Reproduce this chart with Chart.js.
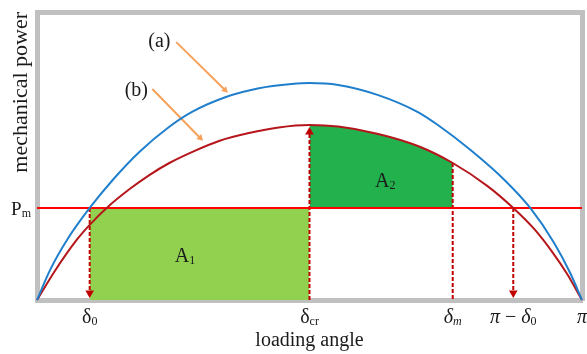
<!DOCTYPE html>
<html>
<head>
<meta charset="utf-8">
<script src="https://cdn.jsdelivr.net/npm/chart.js@4.4.0/dist/chart.umd.min.js"></script>
<style>
  html, body { margin: 0; padding: 0; background: #fff; }
  #wrap { width: 587px; height: 354px; position: relative; }
</style>
</head>
<body>
<div id="wrap"><canvas id="chart"></canvas></div>
<script>
// Power-angle curves, equal area criterion
// x: loading angle in degrees (180 = π), y: power relative to peak of curve (b)

// curve (a) – pre-fault
const curveAX = [0, 4.3, 9.9, 17.4, 25.0, 33.8, 43.7, 51.2, 62.4, 73.3, 84.1, 90, 99.5, 112.7, 125.8, 132.4, 143.2, 154.4, 162.9, 170.8, 176.1, 180];
const curveAY = [0, 0.171, 0.343, 0.526, 0.686, 0.846, 0.990, 1.075, 1.160, 1.210, 1.234, 1.240, 1.229, 1.171, 1.074, 1.000, 0.857, 0.686, 0.526, 0.326, 0.154, 0];

// curve (b) – post-fault
const curveBX = [0, 5.9, 13.1, 17.4, 23.0, 30.6, 37.1, 43.7, 51.9, 60.1, 70.0, 79.8, 90, 99.5, 112.7, 125.8, 137.3, 148.8, 157.3, 164.2, 170.2, 175.1, 180];
const curveBY = [0, 0.166, 0.343, 0.429, 0.526, 0.634, 0.714, 0.783, 0.851, 0.909, 0.954, 0.986, 1.0, 0.991, 0.949, 0.880, 0.783, 0.651, 0.526, 0.406, 0.274, 0.149, 0];

const PM = 0.526;
const D0 = 17.4, DCR = 90, DM = 137.3, PI_D0 = 157.3, PI = 180;
const YMAX = 1.646;
const ARROW_INSET = 0.04;

const xTickValues = [D0, DCR, DM, PI_D0, PI];
const xTickLabels = [
    [{ t: 'δ' }, { t: '0', sub: true }],
    [{ t: 'δ' }, { t: 'cr', sub: true }],
    [{ t: 'δ', it: true }, { t: 'm', sub: true, it: true }],
    [{ t: 'π', it: true }, { t: ' − ' }, { t: 'δ', it: true }, { t: '0', sub: true }],
    [{ t: 'π', it: true }],
];

// orange pointer arrows for the curve names
const arrowA = [[46.0, 1.474], [62.1, 1.200]];
const arrowB = [[38.1, 1.206], [53.9, 0.926]];

// text notes: [label parts, x, y]
const notes = [
    [[{ t: '(a)' }], 40.4, 1.486],
    [[{ t: '(b)' }], 32.8, 1.206],
    [[{ t: 'A' }, { t: '1', sub: true }], 48.9, 0.257],
    [[{ t: 'A' }, { t: '2', sub: true }], 115.0, 0.686],
];

const pts = (xs, ys) => xs.map((x, i) => ({ x, y: ys[i] }));
const seg = (a) => a.map(p => ({ x: p[0], y: p[1] }));

const DARK_RED = '#c00000';
const FRAME = '#c0c0c0';
const SERIF = '"Liberation Serif", "Times New Roman", serif';

// area A2: curve (b) between δcr and δm
const a2X = curveBX.filter(x => x >= DCR && x <= DM);
const a2Y = curveBY.filter((y, i) => curveBX[i] >= DCR && curveBX[i] <= DM);

function drawRich(ctx, parts, cx, base, size, align) {
    const subSize = Math.round(size * 0.62);
    const fontOf = p => `${p.it ? 'italic ' : ''}${p.sub ? subSize : size}px ${SERIF}`;
    let w = 0;
    parts.forEach(p => { ctx.font = fontOf(p); w += ctx.measureText(p.t).width; });
    let x = align === 'right' ? cx - w : cx - w / 2;
    ctx.textAlign = 'left';
    ctx.textBaseline = 'alphabetic';
    parts.forEach(p => {
        ctx.font = fontOf(p);
        ctx.fillText(p.t, x, base + (p.sub ? size * 0.12 : 0));
        x += ctx.measureText(p.t).width;
    });
}

const labelPlugin = {
    id: 'labels',
    afterDraw(chart) {
        const { ctx, chartArea, scales: { x, y } } = chart;
        ctx.save();
        ctx.fillStyle = '#1a1a1a';
        xTickLabels.forEach((parts, i) => {
            drawRich(ctx, parts, x.getPixelForValue(xTickValues[i]), chartArea.bottom + 23, 20);
        });
        drawRich(ctx, [{ t: 'P' }, { t: 'm', sub: true }], chartArea.left - 6, y.getPixelForValue(PM) + 7, 19, 'right');
        notes.forEach(([parts, vx, vy]) => {
            drawRich(ctx, parts, x.getPixelForValue(vx), y.getPixelForValue(vy) + 7, 20);
        });
        ctx.restore();
    }
};

const dashed = (data, withArrow, rot) => ({
    data,
    borderColor: DARK_RED,
    borderWidth: 2,
    borderDash: [4, 2],
    pointStyle: 'triangle',
    pointRadius: withArrow ? [0, 5] : 0,
    pointRotation: [0, rot || 0],
    pointBackgroundColor: DARK_RED,
    pointBorderWidth: 0,
    fill: false,
    clip: false,
});

const pointer = (a) => ({
    data: seg(a),
    borderColor: '#f5a15a',
    borderWidth: 2,
    pointStyle: 'triangle',
    pointRadius: [0, 4],
    pointRotation: [0, 135],
    pointBackgroundColor: '#f5a15a',
    pointBorderWidth: 0,
    fill: false,
    clip: false,
});

new Chart(document.getElementById('chart').getContext('2d'), {
    type: 'line',
    data: {
        datasets: [
            {
                label: '(a)',
                data: pts(curveAX, curveAY),
                borderColor: '#1f7fcc',
                borderWidth: 2,
                pointRadius: 0,
                cubicInterpolationMode: 'monotone',
                fill: false,
                clip: 3,
            },
            {
                label: '(b)',
                data: pts(curveBX, curveBY),
                borderColor: '#b5161b',
                borderWidth: 2,
                pointRadius: 0,
                cubicInterpolationMode: 'monotone',
                fill: false,
                clip: 3,
            },
            {
                label: 'Pm',
                data: [{ x: 0, y: PM }, { x: PI, y: PM }],
                borderColor: '#ff0000',
                borderWidth: 2,
                pointRadius: 0,
                fill: false,
            },
            dashed([{ x: D0, y: PM }, { x: D0, y: ARROW_INSET }], true, 180),
            dashed([{ x: DCR, y: 0 }, { x: DCR, y: 1.0 - ARROW_INSET }], true, 0),
            dashed([{ x: DM, y: curveBY[curveBX.indexOf(DM)] }, { x: DM, y: 0 }], false),
            dashed([{ x: PI_D0, y: PM }, { x: PI_D0, y: ARROW_INSET }], true, 180),
            pointer(arrowA),
            pointer(arrowB),
            {
                label: 'A1',
                data: [{ x: D0, y: PM }, { x: DCR, y: PM }],
                borderWidth: 0,
                pointRadius: 0,
                backgroundColor: '#92d050',
                fill: 'origin',
            },
            {
                label: 'A2',
                data: pts(a2X, a2Y),
                borderWidth: 0,
                pointRadius: 0,
                cubicInterpolationMode: 'monotone',
                backgroundColor: '#22b14c',
                fill: { value: PM },
            },
        ],
    },
    options: {
        responsive: true,
        maintainAspectRatio: false,
        animation: false,
        layout: { padding: { top: 12, right: 2, left: 0, bottom: 0 } },
        plugins: {
            legend: { display: false },
            tooltip: { enabled: false },
            filler: { drawTime: 'beforeDatasetsDraw' },
        },
        scales: {
            x: {
                type: 'linear', min: 0, max: PI, position: 'bottom',
                grid: { display: false },
                border: { display: true, color: FRAME, width: 5 },
                ticks: { display: false },
                title: {
                    display: true, text: 'loading angle', color: '#1a1a1a',
                    font: { family: SERIF, size: 20 }, padding: { top: 0, bottom: 1 },
                },
                afterFit: s => { s.height = 54; },
            },
            x2: {
                type: 'linear', min: 0, max: PI, position: 'top',
                grid: { display: false },
                border: { display: true, color: FRAME, width: 5 },
                ticks: { display: false },
                afterFit: s => { s.height = 0; },
            },
            y: {
                type: 'linear', min: 0, max: YMAX, position: 'left',
                grid: { display: false },
                border: { display: true, color: FRAME, width: 5 },
                ticks: { display: false },
                title: {
                    display: true, text: 'mechanical power', color: '#1a1a1a', align: 'end',
                    font: { family: SERIF, size: 22 }, padding: { top: 8, bottom: 0 },
                },
                afterFit: s => { s.width = 37; },
            },
            y2: {
                type: 'linear', min: 0, max: YMAX, position: 'right',
                grid: { display: false },
                border: { display: true, color: FRAME, width: 5 },
                ticks: { display: false },
                afterFit: s => { s.width = 0; },
            },
        },
    },
    plugins: [labelPlugin],
});
</script>
</body>
</html>
